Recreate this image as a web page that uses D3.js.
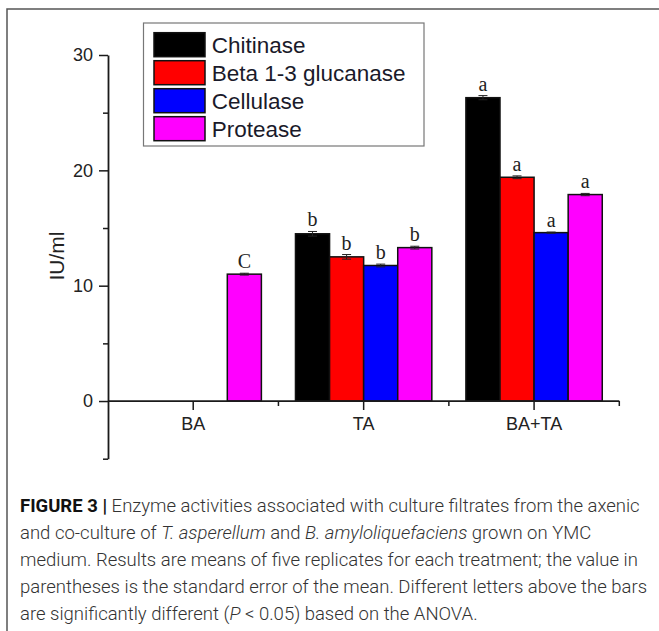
<!DOCTYPE html>
<html>
<head>
<meta charset="utf-8">
<script src="https://cdn.jsdelivr.net/npm/d3@7"></script>
<style>
  body { margin: 0; background: #fff; }
  svg { display: block; }
</style>
</head>
<body>
<div id="chart"></div>
<script>
// Data
const categories = ["BA", "TA", "BA+TA"];
const seriesNames = ["Chitinase", "Beta 1-3 glucanase", "Cellulase", "Protease"];
const seriesColors = ["#000000", "#ff0000", "#0000ff", "#ff00ff"];

const chitinase = [null, 14.5, 26.3];
const glucanase = [null, 12.5, 19.4];
const cellulase = [null, 11.75, 14.6];
const protease = [11.0, 13.3, 17.9];

const chitinaseErr = [0, 0.2, 0.18];
const glucanaseErr = [0, 0.2, 0.12];
const cellulaseErr = [0, 0.12, 0.05];
const proteaseErr = [0.08, 0.12, 0.1];

const chitinaseSig = ["", "b", "a"];
const glucanaseSig = ["", "b", "a"];
const cellulaseSig = ["", "b", "a"];
const proteaseSig = ["C", "b", "a"];

const majorTicks = [0, 10, 20, 30];
const minorTicks = [-5, 5, 15, 25];

const values = [chitinase, glucanase, cellulase, protease];
const errors = [chitinaseErr, glucanaseErr, cellulaseErr, proteaseErr];
const sigs = [chitinaseSig, glucanaseSig, cellulaseSig, proteaseSig];

// flat table of bars
const bars = [];
categories.forEach((c, i) => {
    seriesNames.forEach((s, j) => {
        if (values[j][i] != null) {
            bars.push({cat: c, series: s, color: seriesColors[j], value: values[j][i], err: errors[j][i], sig: sigs[j][i]});
        }
    });
});

const width = 659, height = 631;
const svg = d3.select("#chart").append("svg")
    .attr("width", width)
    .attr("height", height);

// figure frame
svg.append("rect")
    .attr("x", 7).attr("y", 9)
    .attr("width", 700).attr("height", 700)
    .attr("fill", "none")
    .attr("stroke", "#555")
    .attr("stroke-width", 1.5);

// scales
const x = d3.scaleBand().domain(categories).range([108, 619.3]).padding(0);
const xInner = d3.scaleBand().domain(seriesNames)
    .range([x.bandwidth() * 0.1, x.bandwidth() * 0.9]).padding(0);
const y = d3.scaleLinear().domain([-5, 30]).range([458.7, 55]);

const axisColor = "#1a1a1a";

// y axis: line, major and minor ticks
const yAxisMajor = d3.axisLeft(y).tickValues(majorTicks).tickSize(9).tickPadding(6).tickSizeOuter(0);
const gy = svg.append("g").attr("transform", "translate(108,0)").call(yAxisMajor);
gy.select(".domain").attr("stroke", axisColor).attr("stroke-width", 1.8);
gy.selectAll(".tick line").attr("stroke", axisColor).attr("stroke-width", 1.5);
gy.selectAll(".tick text")
    .attr("font-family", "'Liberation Sans', Arial, sans-serif")
    .attr("font-size", 18)
    .attr("fill", "#222");

const yAxisMinor = d3.axisLeft(y).tickValues(minorTicks).tickSize(5).tickFormat("").tickSizeOuter(0);
const gy2 = svg.append("g").attr("transform", "translate(108,0)").call(yAxisMinor);
gy2.select(".domain").remove();
gy2.selectAll(".tick line").attr("stroke", axisColor).attr("stroke-width", 1.5);

// bars
svg.append("g").selectAll("rect")
    .data(bars)
    .join("rect")
    .attr("x", d => x(d.cat) + xInner(d.series))
    .attr("y", d => y(d.value))
    .attr("width", xInner.bandwidth())
    .attr("height", d => y(0) - y(d.value))
    .attr("fill", d => d.color)
    .attr("stroke", "#111")
    .attr("stroke-width", 1.5);

// error bars
const eg = svg.append("g").attr("stroke", "#222").attr("stroke-width", 1);
bars.forEach(d => {
    const cx = x(d.cat) + xInner(d.series) + xInner.bandwidth() / 2;
    eg.append("line").attr("x1", cx).attr("x2", cx)
        .attr("y1", y(d.value - d.err)).attr("y2", y(d.value + d.err));
    [d.value - d.err, d.value + d.err].forEach(v => {
        eg.append("line").attr("x1", cx - 4.5).attr("x2", cx + 4.5)
            .attr("y1", y(v)).attr("y2", y(v));
    });
});

// significance letters
svg.append("g").selectAll("text")
    .data(bars)
    .join("text")
    .attr("x", d => x(d.cat) + xInner(d.series) + xInner.bandwidth() / 2)
    .attr("y", d => y(d.value + d.err) - 5)
    .attr("text-anchor", "middle")
    .attr("font-family", "'Liberation Serif', 'Times New Roman', serif")
    .attr("font-size", 20)
    .attr("fill", "#222")
    .text(d => d.sig);

// x axis at zero, major ticks at categories, minor at band edges
const gx = svg.append("g").attr("transform", `translate(0,${y(0)})`);
gx.append("line")
    .attr("x1", 108).attr("x2", 619.3)
    .attr("stroke", axisColor).attr("stroke-width", 1.8);
gx.selectAll(".major")
    .data(categories)
    .join("line")
    .attr("class", "major")
    .attr("x1", d => x(d) + x.bandwidth() / 2)
    .attr("x2", d => x(d) + x.bandwidth() / 2)
    .attr("y1", 0).attr("y2", 9)
    .attr("stroke", axisColor).attr("stroke-width", 1.5);
gx.selectAll(".minor")
    .data(categories)
    .join("line")
    .attr("class", "minor")
    .attr("x1", d => x(d) + x.bandwidth())
    .attr("x2", d => x(d) + x.bandwidth())
    .attr("y1", 0).attr("y2", 5)
    .attr("stroke", axisColor).attr("stroke-width", 1.5);
gx.selectAll("text")
    .data(categories)
    .join("text")
    .attr("x", d => x(d) + x.bandwidth() / 2)
    .attr("y", 29)
    .attr("text-anchor", "middle")
    .attr("font-family", "'Liberation Sans', Arial, sans-serif")
    .attr("font-size", 18)
    .attr("fill", "#222")
    .text(d => d);

// y label
svg.append("text")
    .attr("transform", "translate(64,256) rotate(-90)")
    .attr("text-anchor", "middle")
    .attr("font-family", "'Liberation Sans', Arial, sans-serif")
    .attr("font-size", 21)
    .attr("fill", "#222")
    .text("IU/ml");

// legend
const legend = svg.append("g");
legend.append("rect")
    .attr("x", 143.5).attr("y", 23)
    .attr("width", 280.5).attr("height", 123)
    .attr("fill", "#fff")
    .attr("stroke", "#777")
    .attr("stroke-width", 1.2);
const rows = legend.selectAll("g.row")
    .data(seriesNames)
    .join("g")
    .attr("class", "row")
    .attr("transform", (d, i) => `translate(154,${32.7 + i * 28})`);
rows.append("rect")
    .attr("width", 51).attr("height", 24)
    .attr("fill", (d, i) => seriesColors[i])
    .attr("stroke", "#111")
    .attr("stroke-width", 1.5);
rows.append("text")
    .attr("x", 57.7)
    .attr("y", 20.5)
    .attr("font-family", "'Liberation Sans', Arial, sans-serif")
    .attr("font-size", 22.5)
    .attr("fill", "#1a1a2a")
    .text(d => d);

// caption
const cap = svg.append("g")
    .attr("font-family", "Roboto, 'Liberation Sans', sans-serif")
    .attr("font-size", 18.5)
    .attr("font-weight", 300)
    .attr("fill", "#333");
const capLines = [
    [["FIGURE 3 |", "b"], [" Enzyme activities associated with culture filtrates from the axenic", ""]],
    [["and co-culture of ", ""], ["T. asperellum", "i"], [" and ", ""], ["B. amyloliquefaciens", "i"], [" grown on YMC", ""]],
    [["medium. Results are means of five replicates for each treatment; the value in", ""]],
    [["parentheses is the standard error of the mean. Different letters above the bars", ""]],
    [["are significantly different (", ""], ["P", "i"], [" < 0.05) based on the ANOVA.", ""]]
];
capLines.forEach((parts, i) => {
    const t = cap.append("text").attr("x", 20).attr("y", 512 + i * 27);
    parts.forEach(([s, st]) => {
        const ts = t.append("tspan").text(s);
        if (st === "b") ts.attr("font-weight", 700).attr("fill", "#111");
        if (st === "i") ts.attr("font-style", "italic");
    });
});
</script>
</body>
</html>
